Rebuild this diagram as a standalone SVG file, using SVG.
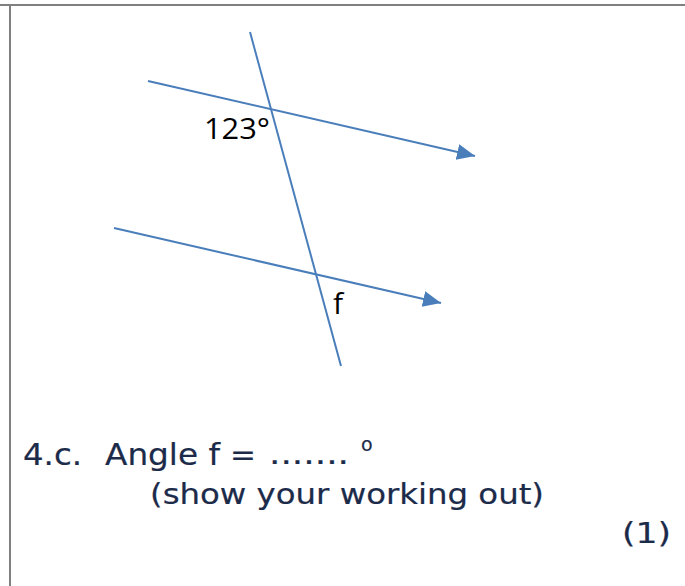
<svg xmlns="http://www.w3.org/2000/svg" width="685" height="586" viewBox="0 0 685 586">
<style>
.frame{stroke:#808080;stroke-width:2;fill:none}
.ln{stroke:#4a7ebb;stroke-width:2;fill:none}
.lbl{font-family:"Open Sans","Liberation Sans",sans-serif;font-size:30px;fill:#000}
.q{font-family:"DejaVu Sans",Verdana,sans-serif;fill:#1c2b4a;stroke:#1c2b4a;stroke-width:0.2}
</style>
<defs>
<marker id="ah" markerUnits="userSpaceOnUse" markerWidth="20" markerHeight="17" refX="18" refY="8" orient="auto">
<path d="M0,0 L18,8 L0,16 z" fill="#4a7ebb"/>
</marker>
</defs>
<rect width="685" height="586" fill="#fff"/>
<path class="frame" d="M0,5 H685 M10,5 V586"/>
<g id="connectors">
<line id="transversal" class="ln" x1="250" y1="32" x2="341" y2="366"/>
<line id="parallel-top" class="ln" x1="148" y1="81" x2="475" y2="156" marker-end="url(#ah)"/>
<line id="parallel-bottom" class="ln" x1="114" y1="228" x2="441" y2="303" marker-end="url(#ah)"/>
</g>
<g id="label-123"><text class="lbl" x="204" y="139" textLength="66" lengthAdjust="spacingAndGlyphs">123°</text></g>
<g id="label-f"><text class="lbl" x="333" y="314">f</text></g>
<g id="question" class="q">
<text x="23" y="465" font-size="31" textLength="59" lengthAdjust="spacingAndGlyphs">4.c.</text>
<text x="105" y="465" font-size="31" textLength="115" lengthAdjust="spacingAndGlyphs">Angle f</text>
<text x="230" y="465" font-size="31">=</text>
<text x="269" y="464" font-size="31" textLength="80" lengthAdjust="spacingAndGlyphs">.......</text>
<text x="361" y="451" font-size="19">o</text>
<text x="150" y="504" font-size="28" textLength="394" lengthAdjust="spacingAndGlyphs">(show your working out)</text>
<text x="622" y="543" font-size="28" textLength="49" lengthAdjust="spacingAndGlyphs">(1)</text>
</g>
</svg>
